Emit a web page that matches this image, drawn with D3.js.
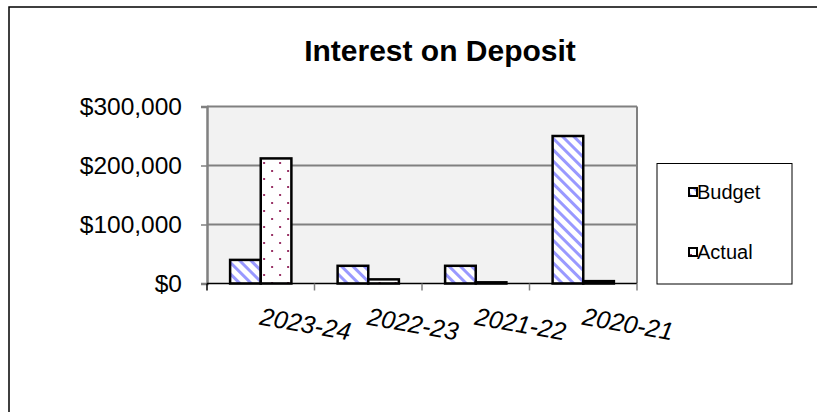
<!DOCTYPE html>
<html>
<head>
<meta charset="utf-8">
<script src="https://cdn.jsdelivr.net/npm/d3@7/dist/d3.min.js"></script>
<style>
  html, body { margin: 0; padding: 0; background: #fff; }
  svg { display: block; font-family: "Liberation Sans", Arial, sans-serif; }
</style>
</head>
<body>
<svg id="chart" width="817" height="412"></svg>
<script>
// Interest on Deposit: budget vs actual by financial year
const categories = ["2023-24", "2022-23", "2021-22", "2020-21"];
const budget = [40000, 30000, 30000, 250000];
const actual = [212000, 7000, 2000, 4000];
const yTicks = [0, 100000, 200000, 300000];
const seriesNames = ["Budget", "Actual"];

const svg = d3.select("#chart");
const W = 817, H = 412;

// Chart area frame (open on the right and bottom edges)
svg.append("rect")
  .attr("x", 9).attr("y", 7)
  .attr("width", W + 20).attr("height", H + 20)
  .attr("fill", "#fff").attr("stroke", "#000").attr("stroke-width", 1.5);

// Fill patterns
const defs = svg.append("defs");
const stripe = defs.append("pattern")
  .attr("id", "budgetFill")
  .attr("patternUnits", "userSpaceOnUse")
  .attr("width", 8).attr("height", 8)
  .attr("patternTransform", "rotate(45)");
stripe.append("rect").attr("width", 8).attr("height", 8).attr("fill", "#fff");
stripe.append("rect").attr("x", 0).attr("y", 0).attr("width", 8).attr("height", 3).attr("fill", "#9999ff");

const dots = defs.append("pattern")
  .attr("id", "actualFill")
  .attr("patternUnits", "userSpaceOnUse")
  .attr("width", 16).attr("height", 16)
  .attr("x", 1).attr("y", 2);
dots.append("rect").attr("width", 16).attr("height", 16).attr("fill", "#fff");
dots.append("rect").attr("x", 0).attr("y", 0).attr("width", 2).attr("height", 2).attr("fill", "#993366");
dots.append("rect").attr("x", 8).attr("y", 8).attr("width", 2).attr("height", 2).attr("fill", "#993366");

const fills = { Budget: "url(#budgetFill)", Actual: "url(#actualFill)" };

// Plot area
const plot = { left: 207, right: 637, top: 106.5, bottom: 283.5 };

const x = d3.scaleBand()
  .domain(categories)
  .range([plot.left, plot.right])
  .paddingInner(0.43)
  .paddingOuter(0.215);

const xSub = d3.scaleBand()
  .domain(seriesNames)
  .range([0, x.bandwidth()]);

const y = d3.scaleLinear()
  .domain([0, 300000])
  .range([plot.bottom, plot.top]);

svg.append("rect")
  .attr("x", plot.left).attr("y", plot.top)
  .attr("width", plot.right - plot.left).attr("height", plot.bottom - plot.top)
  .attr("fill", "#f2f2f2");

// Gridlines
svg.append("g")
  .selectAll("line")
  .data(yTicks.filter(d => d > 0))
  .join("line")
  .attr("x1", plot.left).attr("x2", plot.right)
  .attr("y1", d => y(d)).attr("y2", d => y(d))
  .attr("stroke", "#808080").attr("stroke-width", 2);

// Right edge of plot area
svg.append("line")
  .attr("x1", plot.right).attr("x2", plot.right)
  .attr("y1", plot.top).attr("y2", plot.bottom)
  .attr("stroke", "#808080").attr("stroke-width", 2);

// Y axis
const yAxis = svg.append("g")
  .attr("transform", `translate(${plot.left},0)`)
  .call(d3.axisLeft(y).tickValues(yTicks).tickSize(6).tickPadding(19)
    .tickFormat(d => "$" + d3.format(",")(d)));
yAxis.select(".domain").attr("stroke", "#808080").attr("stroke-width", 2.5);
yAxis.selectAll(".tick line").attr("stroke", "#808080").attr("stroke-width", 1.5);
yAxis.selectAll(".tick text")
  .attr("font-size", 24.5).attr("fill", "#000")
  .attr("font-family", "Liberation Sans, Arial, sans-serif");

// Bars
const rows = categories.map((c, i) => ({ cat: c, vals: [
  { name: "Budget", value: budget[i] },
  { name: "Actual", value: actual[i] }
]}));

svg.append("g")
  .selectAll("g")
  .data(rows)
  .join("g")
  .attr("transform", d => `translate(${x(d.cat)},0)`)
  .selectAll("rect")
  .data(d => d.vals)
  .join("rect")
  .attr("x", d => xSub(d.name))
  .attr("width", xSub.bandwidth())
  .attr("y", d => y(d.value))
  .attr("height", d => y(0) - y(d.value))
  .attr("fill", d => fills[d.name])
  .attr("stroke", "#000").attr("stroke-width", 2.5);

// X axis baseline and category ticks
const xTickPos = categories.map(c => x(c) - x.step() * x.paddingInner() / 2)
  .concat([plot.right]);
svg.append("line")
  .attr("x1", plot.left).attr("x2", plot.right)
  .attr("y1", plot.bottom).attr("y2", plot.bottom)
  .attr("stroke", "#000").attr("stroke-width", 1.5);
svg.append("g")
  .selectAll("line")
  .data(xTickPos)
  .join("line")
  .attr("x1", d => d).attr("x2", d => d)
  .attr("y1", plot.bottom).attr("y2", plot.bottom + 7)
  .attr("stroke", (d, i) => i === 0 ? "#000" : "#808080")
  .attr("stroke-width", 1.5);

// Category labels, slanted
svg.append("g")
  .selectAll("text")
  .data(categories)
  .join("text")
  .attr("transform", d => `translate(${x(d) + x.bandwidth() / 2 - 2},${plot.bottom + 41}) rotate(10)`)
  .attr("text-anchor", "start")
  .attr("font-size", 25)
  .attr("font-style", "italic")
  .attr("fill", "#000")
  .text(d => d);

// Title
svg.append("text")
  .attr("x", 440).attr("y", 61)
  .attr("text-anchor", "middle")
  .attr("font-size", 30)
  .attr("font-weight", "bold")
  .attr("fill", "#000")
  .text("Interest on Deposit");

// Legend
const legend = svg.append("g");
legend.append("rect")
  .attr("x", 657).attr("y", 163.5)
  .attr("width", 135).attr("height", 120.5)
  .attr("fill", "#fff").attr("stroke", "#000").attr("stroke-width", 1);

const legendY = d3.scalePoint().domain(seriesNames).range([192, 252]);
const item = legend.selectAll("g.item")
  .data(seriesNames)
  .join("g")
  .attr("class", "item")
  .attr("transform", d => `translate(689,${legendY(d)})`);
item.append("rect")
  .attr("x", 0).attr("y", -4)
  .attr("width", 8).attr("height", 8)
  .attr("fill", d => fills[d])
  .attr("stroke", "#000").attr("stroke-width", 2);
item.append("text")
  .attr("x", 8).attr("y", 7)
  .attr("font-size", 20)
  .attr("fill", "#000")
  .text(d => d);
</script>
</body>
</html>
